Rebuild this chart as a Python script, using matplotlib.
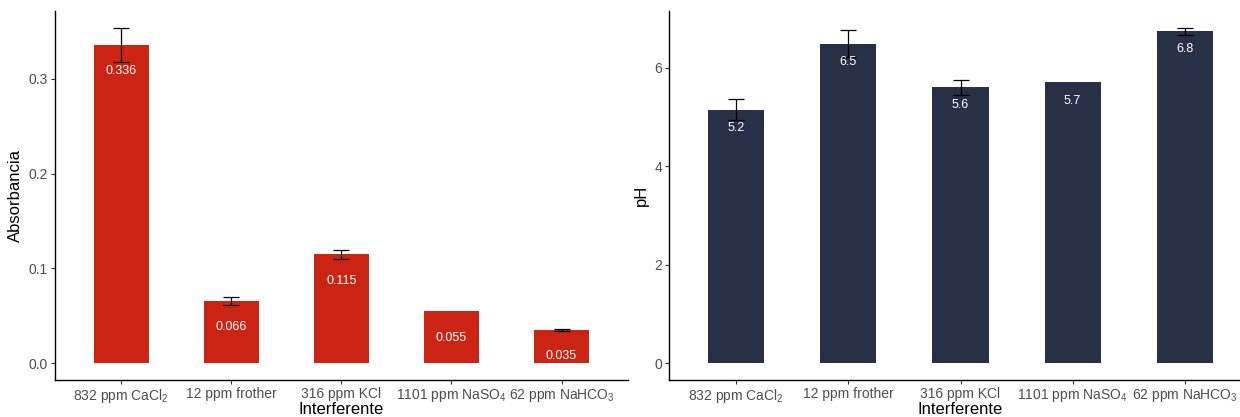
import matplotlib
matplotlib.use("Agg")
import matplotlib.pyplot as plt

plt.rcParams['font.family'] = ['Liberation Sans', 'DejaVu Sans']
plt.rcParams['mathtext.fontset'] = 'custom'
plt.rcParams['mathtext.rm'] = 'Liberation Sans'
plt.rcParams['mathtext.it'] = 'Liberation Sans'

categories = ['832 ppm CaCl$_2$', '12 ppm frother', '316 ppm KCl',
              '1101 ppm NaSO$_4$', '62 ppm NaHCO$_3$']

absorb = [0.336, 0.066, 0.115, 0.055, 0.035]
absorb_sd = [0.018, 0.0044, 0.0048, 0.0, 0.0013]
absorb_labels = ['0.336', '0.066', '0.115', '0.055', '0.035']

ph = [5.15, 6.49, 5.60, 5.70, 6.74]
ph_sd = [0.21, 0.27, 0.15, 0.0, 0.07]
ph_labels = ['5.2', '6.5', '5.6', '5.7', '6.8']

red = '#CC2414'
navy = '#283047'


def panel(ax, vals, sds, labels, color, ylabel, yticks, ticklabels, offset):
    x = list(range(1, len(vals) + 1))
    ax.bar(x, vals, width=0.5, color=color, zorder=2)
    errx = [xi for xi, s in zip(x, sds) if s > 0]
    erry = [v for v, s in zip(vals, sds) if s > 0]
    errs = [s for s in sds if s > 0]
    ax.errorbar(errx, erry, yerr=errs, fmt='none', ecolor='black',
                elinewidth=0.9, capsize=5.5, capthick=0.9, zorder=3)
    for xi, v, lab in zip(x, vals, labels):
        ax.annotate(lab, (xi, v), xytext=(0, -offset), textcoords='offset points',
                    ha='center', va='center', color='white', fontsize=9, zorder=4)
    top = max(v + s for v, s in zip(vals, sds))
    ax.set_ylim(-0.05 * top, 1.05 * top)
    ax.set_xlim(0.4, len(vals) + 0.6)
    ax.set_xticks(x)
    ax.set_xticklabels(categories)
    ax.set_yticks(yticks)
    ax.set_yticklabels(ticklabels)
    ax.tick_params(colors='#333333', labelcolor='#4D4D4D', labelsize=10,
                   length=3, width=0.8, pad=2)
    for s in ['top', 'right']:
        ax.spines[s].set_visible(False)
    for s in ['left', 'bottom']:
        ax.spines[s].set_linewidth(1.0)
        ax.spines[s].set_color('black')
    ax.set_xlabel('Interferente', fontsize=12, labelpad=-2)
    ax.set_ylabel(ylabel, fontsize=12, labelpad=4)


fig = plt.figure(figsize=(12.4, 4.17), dpi=100)
ax1 = fig.add_axes([0.0444, 0.0887, 0.4617, 0.8849])
ax2 = fig.add_axes([0.5395, 0.0887, 0.4702, 0.8849])

panel(ax1, absorb, absorb_sd, absorb_labels, red, 'Absorbancia',
      [0.0, 0.1, 0.2, 0.3], ['0.0', '0.1', '0.2', '0.3'], 19)
panel(ax2, ph, ph_sd, ph_labels, navy, 'pH',
      [0, 2, 4, 6], ['0', '2', '4', '6'], 13)

fig.savefig('out.png', dpi=100)
